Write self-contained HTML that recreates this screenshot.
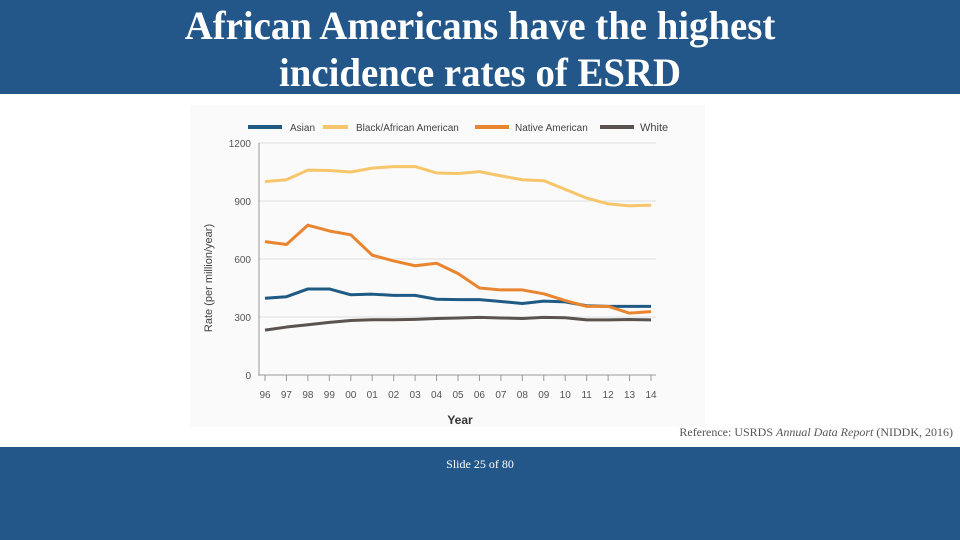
<!DOCTYPE html>
<html><head><meta charset="utf-8"><style>
body{margin:0;width:960px;height:540px;overflow:hidden;background:#fff;font-family:"Liberation Sans",sans-serif;position:relative}
#hdr{position:absolute;left:0;top:0;width:960px;height:94px;background:#235789}
#hdr div{position:absolute;left:0;width:960px;text-align:center;color:#fff;font-family:"Liberation Serif",serif;font-weight:bold;font-size:40px;line-height:40px;transform:scaleX(0.97)}
#ftr{position:absolute;left:0;top:447px;width:960px;height:93px;background:#235789}
#slide{position:absolute;left:0;top:457px;width:960px;text-align:center;font-family:"Liberation Serif",serif;font-size:12px;color:#fff}
#ref{position:absolute;right:7px;top:425px;font-family:"Liberation Serif",serif;font-size:12px;color:#555}
svg{position:absolute;left:0;top:0}
</style></head><body>
<div id="hdr"><div style="top:6px">African Americans have the highest</div><div style="top:53px">incidence rates of ESRD</div></div>
<svg id="chart" width="960" height="540">
<rect x="190" y="105" width="515" height="322" fill="#fafafa"/>
</svg>
<div id="ref">Reference: USRDS <i>Annual Data Report</i> (NIDDK, 2016)</div>
<div id="ftr"></div>
<div id="slide">Slide 25 of 80</div>
<script>
const years=["96","97","98","99","00","01","02","03","04","05","06","07","08","09","10","11","12","13","14"];
const yTicks=[0,300,600,900,1200];
const asian=[397,405,445,445,415,418,412,412,392,390,390,380,370,382,378,358,355,355,355];
const black=[1000,1010,1060,1058,1050,1070,1078,1078,1045,1042,1052,1030,1010,1005,960,915,885,875,878];
const native=[690,675,775,745,725,620,590,565,578,525,450,440,440,420,385,355,355,320,328];
const white=[232,248,260,272,282,286,286,288,292,295,298,295,292,298,296,285,285,287,285];
const seriesNames=["Asian","Black/African American","Native American","White"];
const svg=document.getElementById('chart');const NS="http://www.w3.org/2000/svg";
function el(t,a,p){const e=document.createElementNS(NS,t);for(const k in a)e.setAttribute(k,a[k]);(p||svg).appendChild(e);return e;}
const x=i=>265+i*(651-265)/(years.length-1);
const y=v=>375-v*(375-143)/1200;
yTicks.forEach(t=>{
 const l=el('line',{x1:258,x2:656,y1:y(t),y2:y(t),stroke:t===0?'#999':'#ddd','stroke-width':1});
 
 
 const tx=el('text',{x:251,y:y(t)+4,'text-anchor':'end','font-size':10,fill:'#555'});tx.textContent=t;
 
 
});
const ax=el('line',{x1:259,x2:259,y1:143,y2:375,stroke:'#999'});


years.forEach((yr,i)=>{
 const tk=el('line',{x1:x(i),x2:x(i),y1:375,y2:381,stroke:'#999'});
 
 
 const tx=el('text',{x:x(i),y:398,'text-anchor':'middle','font-size':10,fill:'#555'});tx.textContent=yr;
 
 
});
const xt=el('text',{x:460,y:424,'text-anchor':'middle','font-size':12,'font-weight':'bold',fill:'#333'});xt.textContent='Year';


const yt=el('text',{x:0,y:0,'text-anchor':'middle','font-size':11,fill:'#444',transform:'translate(212,278) rotate(-90)'});yt.textContent='Rate (per million/year)';


const colors=['#1f5a85','#f7c66b','#e8852e','#5a5350'];
const data=[asian,black,native,white];
const drawOrder=[3,0,1,2];
drawOrder.forEach(s=>{
 const p=el('polyline',{points:data[s].map((v,i)=>x(i)+','+y(v)).join(' '),fill:'none',stroke:colors[s],'stroke-width':3,'stroke-linejoin':'round'});
 
 
});
const lx=[248,323,475,600],lw=[34,25,34,34],ltx=[290,356,515,640];
seriesNames.forEach((n,s)=>{
 const l=el('line',{x1:lx[s],x2:lx[s]+lw[s],y1:127,y2:127,stroke:colors[s],'stroke-width':4});
 
 
 const t=el('text',{x:ltx[s],y:131,'font-size':s===3?11:10,fill:'#444'});t.textContent=n;
 
 
});
</script>
</body></html>
